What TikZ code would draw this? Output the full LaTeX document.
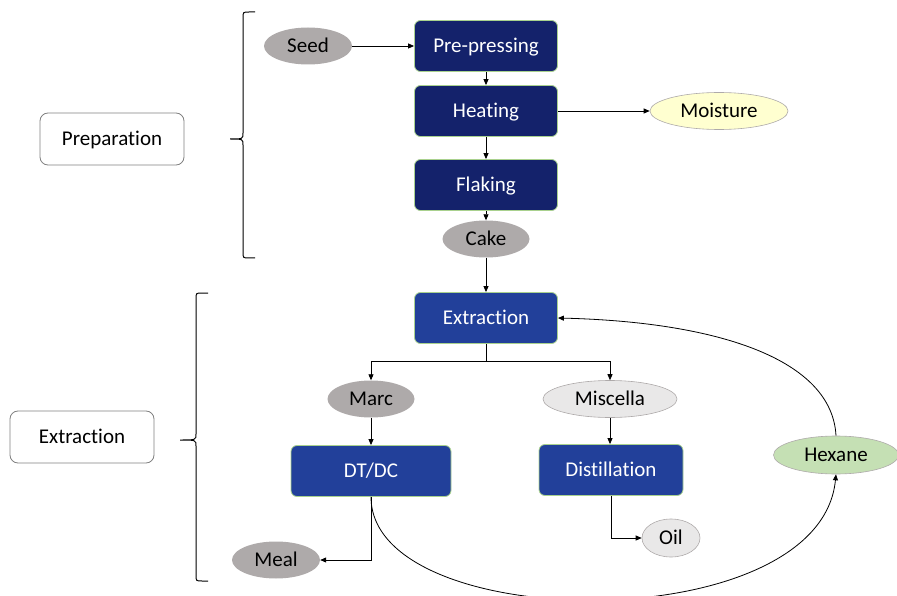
\documentclass[tikz,border=0pt]{standalone}
\usepackage{fontspec}
\setmainfont{Carlito}[RawFeature=-liga]
\usetikzlibrary{arrows.meta,shapes.geometric}
\definecolor{navy}{HTML}{14226B}
\definecolor{royal}{HTML}{22409A}
\definecolor{edgegreen}{HTML}{A9D18E}
\definecolor{stone}{HTML}{AEAAAA}
\definecolor{mist}{HTML}{E9E8E8}
\definecolor{cream}{HTML}{FFFFD0}
\definecolor{leaf}{HTML}{C5E0B4}
\tikzset{
  x=1pt,y=-1pt,
  every node/.style={font=\fontsize{21}{24}\selectfont, inner sep=0pt,
    text height=13.5pt, text depth=0pt},
  stage/.style={rectangle, rounded corners=6pt, draw=edgegreen, line width=0.8pt,
    text=white, minimum height=51pt},
  prep/.style={stage, fill=navy, minimum width=143pt},
  extr/.style={stage, fill=royal},
  stream/.style={ellipse, minimum width=88pt, minimum height=37pt},
  solid stream/.style={stream, fill=stone},
  pale stream/.style={stream, fill=mist, draw=stone, line width=0.6pt},
  label box/.style={rectangle, rounded corners=8pt, draw=gray, line width=0.8pt,
    fill=white, minimum width=144pt, minimum height=52pt},
  flow/.style={line width=0.8pt, -{Triangle[length=6pt,width=5pt]}},
  bracket/.style={line width=1pt}
}
\begin{document}
\begin{tikzpicture}
\useasboundingbox (0,0) rectangle (897,596);

% preparation stage
\node[solid stream] (seed) at (308,46) {Seed};
\node[prep] (press) at (486,46) {Pre-pressing};
\node[prep] (heat) at (486,111) {Heating};
\node[prep] (flake) at (486,185) {Flaking};
\node[solid stream, minimum width=87pt] (cake) at (486,239) {Cake};
\node[pale stream, fill=cream, minimum width=138pt] (moist) at (719,111) {Moisture};

% extraction stage
\node[extr, minimum width=143pt] (extract) at (486,318) {Extraction};
\node[solid stream, minimum width=87pt] (marc) at (371,399) {Marc};
\node[pale stream, minimum width=134pt] (misc) at (610,399) {Miscella};
\node[extr, minimum width=160pt] (dtdc) at (371,471) {DT/DC};
\node[extr, minimum width=144pt] (dist) at (611,470) {Distillation};
\node[solid stream] (meal) at (276,560) {Meal};
\node[pale stream, minimum width=58pt, minimum height=38pt] (oil) at (671,538) {Oil};
\node[pale stream, fill=leaf, minimum width=125pt, minimum height=38pt] (hex) at (836,455) {Hexane};

% section labels
\node[label box] (lprep) at (112,139) {Preparation};
\node[label box] (lext) at (82,437) {Extraction};

% brackets
\coordinate (b1top) at (255,12);
\coordinate (b1tip) at (230,139);
\coordinate (b1bot) at (255,258);
\draw[bracket] (b1top) -- (249,12) .. controls (243,12) .. (243,18) -- (243,133)
  .. controls (243,139) .. (b1tip) .. controls (243,139) .. (243,145) -- (243,252)
  .. controls (243,258) .. (249,258) -- (b1bot);
\coordinate (b2top) at (208,293);
\coordinate (b2tip) at (180,440);
\coordinate (b2bot) at (208,581);
\draw[bracket] (b2top) -- (202,293) .. controls (196,293) .. (196,299) -- (196,434)
  .. controls (196,440) .. (b2tip) .. controls (196,440) .. (196,446) -- (196,575)
  .. controls (196,581) .. (202,581) -- (b2bot);

% flows
\draw[flow] (seed) -- (press);
\draw[flow] (press) -- (heat);
\draw[flow] (heat) -- (moist);
\draw[flow] (heat) -- (flake);
\draw[flow] (flake) -- (cake);
\draw[flow] (cake) -- (extract);
\coordinate (split) at (486,361);
\draw[line width=0.8pt] (extract.south) -- (split);
\draw[flow] (split) -| (marc.north);
\draw[flow] (split) -| (misc.north);
\draw[flow] (marc) -- (dtdc);
\draw[flow] (misc.south) -- (misc.south |- dist.north);
\draw[flow] (dtdc.south) |- (meal.east);
\draw[flow] (dist.south) |- (oil.west);
\draw[flow] (dtdc.south) .. controls (371,635) and (820,640) .. (hex.south);
\draw[flow] (hex.north) .. controls (832,360) and (720,322) .. (extract.east);
\end{tikzpicture}
\end{document}
